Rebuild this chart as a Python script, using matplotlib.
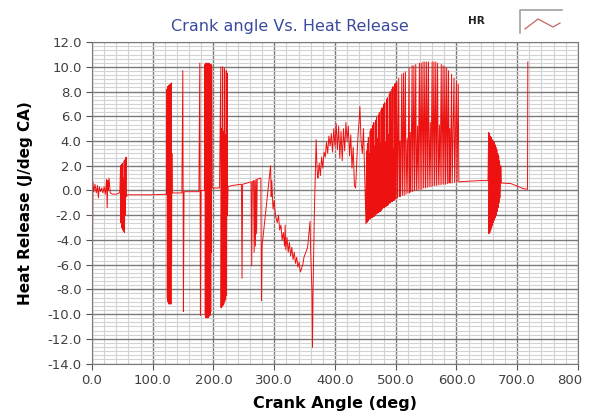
import numpy as np
import matplotlib
matplotlib.use("Agg")
import matplotlib.pyplot as plt
import matplotlib.transforms as mtransforms
from matplotlib.ticker import AutoMinorLocator
from matplotlib.lines import Line2D

# crank angle (deg) and heat release (J/deg CA)
angle = [
    0, 0.5, 1.5, 3, 5, 7, 9, 10.5, 12, 14, 16, 18, 20, 22, 24, 25, 26, 27, 28, 30,
    34, 40, 45, 46, 47, 47.5, 48.5, 49, 50, 50.5, 51.5, 52, 53, 53.5, 54.5, 55,
    56, 56.5, 58, 80, 100, 122,
    123, 123.5, 124, 124.5, 125, 125.5, 126, 126.5, 127, 127.5, 128, 128.5, 129,
    129.5, 130, 130.5, 131, 131.5, 132, 148, 149.5, 150.5, 151.5, 176, 177.5,
    178.5, 179.5, 185,
    186, 186.5, 187, 187.5, 188, 188.5, 189, 189.5, 190, 190.5, 191, 191.5, 192,
    192.5, 193, 193.5, 194, 194.5, 195, 195.5, 196, 196.5, 197, 198, 210,
    212, 212.5, 213.5, 214, 215, 215.5, 216.5, 217, 218, 218.5, 219.5, 220, 221,
    221.5, 222.5, 223, 224, 230,
    246, 247, 248, 255, 262, 263, 264, 266, 267, 268, 269, 270, 271, 272, 276,
    278, 279, 280, 294, 295, 296, 298, 300, 302, 305, 307, 309, 311, 313, 315,
    317, 318, 319, 321, 323, 325, 327, 329, 331, 333, 335, 337, 339, 341, 343,
    345, 347, 349, 352, 355, 357, 359, 360, 362, 363, 364, 366, 368, 369, 370,
    371, 372, 374, 376, 378, 380, 382, 384, 386, 388, 390, 392, 394, 396, 398,
    400, 402, 404, 406, 408, 410, 412, 414, 416, 418, 420, 422, 424, 426, 428,
    430, 432, 434, 436, 438, 440, 441, 443, 445, 447, 449, 451,
    452, 452.5, 453.5, 454, 455, 455.5, 456.5, 457, 458, 458.5, 459.5, 460,
    461, 461.5, 462.5, 463, 464, 464.5, 465.5, 466, 467, 467.5, 468.5, 469,
    470, 470.5, 471.5, 472, 473, 473.5, 474.5, 475, 476, 476.5, 477.5, 478,
    479, 479.5, 480.5, 481, 482, 482.5, 483.5, 484, 485, 485.5, 486.5, 487,
    488, 488.5, 489.5, 490, 491, 491.5, 492.5, 493, 494, 494.5, 495.5, 496,
    497, 497.5, 498.5, 499, 500, 500.5,
    502, 503, 505, 506, 507, 508, 510, 511, 513, 514, 516, 517, 519, 520, 522,
    523, 524, 525, 527, 528, 530, 531, 533, 534, 536, 537, 539, 540, 542, 543,
    545, 546, 548, 549, 551, 552, 554, 555, 557, 558, 560, 561, 563, 564, 566,
    567, 569, 570, 572, 573, 575, 576, 578, 579, 581, 582, 584, 585, 587, 588,
    589, 590, 592, 593, 596, 597, 600, 601, 603, 604,
    620, 640, 652,
    653, 653.5, 654.5, 655, 656, 656.5, 657.5, 658, 659, 659.5, 660.5, 661,
    662, 662.5, 663.5, 664, 665, 665.5, 666.5, 667, 668, 668.5, 669.5, 670,
    671, 672, 673, 674, 676, 690, 700, 710, 717, 717.5,
]
hr = [
    0.6, -6.5, 0.7, -0.1, 0.5, -0.2, 0.4, -0.6, 0.3, -0.1, 0.2, -0.2, 0.3, -0.3,
    0.9, -1.4, 0.8, 0.0, 1.0, -0.2,
    -0.3, -0.3, -0.2, 0.0, 2.0, -2.6, 2.1, -3.0, 2.2, -3.2, 1.0, -3.3, 2.4,
    -3.4, 2.5, -2.0,
    2.7, -0.5, -0.35, -0.35, -0.35, -0.3,
    -0.3, 8.2, -8.7, 8.4, -9.0, 4.0, -9.1, 8.5, -9.2, 3.5, -8.8, 8.6, -9.0,
    4.2, -9.2, 8.7, -6.0, 3.0, -0.2, -0.2, 9.7, -9.8, -0.1, -0.1, 10.3,
    -10.1, 0.0, 0.0,
    10.2, -10.0, 10.3, -10.3, 5.0, -10.3, 10.3, -10.2, 5.2, -10.3, 10.3, -10.3,
    5.0, -10.2, 10.3, -10.0, 4.8, -10.1, 10.2, -9.8, 10.2, -5.0, 10.1, 0.2, 0.2,
    10.0, -9.5, 5.0, -9.4, 10.0, -9.3, 4.8, -9.2, 9.9, -9.0, 4.5, -8.8, 9.7,
    -8.5, 9.5, -2.0, 0.3, 0.4,
    0.5, -7.1, 0.5, 0.6, 0.7, -6.1, 0.7, 0.8, -5.0, 0.8, -4.5, 0.9, -3.5, 0.9,
    1.0, 1.0, -8.9, -4.5, 2.0, -0.5, 0.8, -1.5, -0.8, -2.0, -2.6, -2.0, -3.2,
    -2.8, -4.0, -3.4, -4.5, -2.8, -4.8, -3.8, -5.0, -4.2, -5.3, -4.6, -5.6,
    -5.0, -5.9, -5.4, -6.2, -5.8, -6.6, -6.3, -6.0, -5.4, -5.0, -4.6, -3.5,
    -2.5, -5.0, -8.0, -12.7, -8.0, -2.0, 2.0, 4.1, 2.5, 1.3, 1.0, 2.2, 1.2,
    2.7, 1.8, 3.1, 2.7, 3.9, 3.0, 4.4, 3.6, 4.6, 3.1, 5.0, 3.6, 5.4, 3.3, 5.2,
    2.6, 4.8, 2.4, 5.0, 3.2, 5.5, 4.0, 5.2, 2.8, 4.5, 1.8, 3.5, 0.4, 0.2, 2.5,
    4.5, 5.8, 6.8, 4.0, 3.0, 5.0, 1.2, -2.7,
    3.2, -2.6, 3.8, -2.5, 4.3, -2.4, 3.0, -2.3, 4.8, -2.3, 5.0, -2.2, 4.0,
    -2.2, 5.3, -2.1, 5.5, -2.1, 3.6, -2.0, 5.7, -1.9, 5.9, -1.9, 4.2, -1.8,
    6.1, -1.8, 6.3, -1.7, 3.8, -1.7, 6.5, -1.6, 6.7, -1.5, 5.0, -1.4, 7.0,
    -1.4, 7.1, -1.3, 3.9, -1.3, 7.4, -1.2, 7.5, -1.2, 4.5, -1.1, 7.8, -1.0,
    8.0, -1.0, 5.6, -0.9, 8.2, -0.9, 8.4, -0.8, 3.4, -0.8, 8.6, -0.7, 8.7, -0.7,
    8.8, -0.6, 9.1, -0.5, 4.0, -0.5, 9.4, -0.4, 9.5, -0.4, 9.6, -0.3, 4.2,
    -0.2, 9.9, -0.2, 4.7, -0.1, 10.1, -0.1, 10.1, 0.0, 10.2, 0.0, 5.2, 0.05,
    10.3, 0.1, 10.3, 0.1, 10.4, 0.2, 10.4, 0.2, 10.4, 0.25, 10.4, 0.3, 5.5,
    0.3, 10.4, 0.35, 10.4, 0.4, 10.4, 0.4, 10.3, 0.45, 5.3, 0.45, 10.2, 0.5,
    10.1, 0.5, 10.0, 0.5, 9.9, 0.55, 9.7, 0.6, 5.0, 0.6, 9.4, 0.6, 9.1, 0.65,
    8.8, 0.65, 8.6, 0.7,
    0.75, 0.8, 0.8,
    4.7, -3.5, 4.6, -3.4, 4.4, -3.2, 4.3, -3.0, 4.1, -2.8, 4.0, -2.6, 3.9,
    -2.4, 3.7, -2.2, 3.5, -2.0, 3.3, -1.7, 3.0, -1.4, 2.8, -1.0, 2.4, -0.6,
    2.0, 0.6, 0.6, 0.55, 0.35, 0.15, 0.1, 10.4,
]

xticks = [0, 100, 200, 300, 400, 500, 600, 700, 800]
xlabels = ["0.0", "100.0", "200.0", "300.0", "400.0", "500.0", "600.0", "700.0", "800"]
yticks = [12, 10, 8, 6, 4, 2, 0, -2, -4, -6, -8, -10, -12, -14]

fig = plt.figure(figsize=(5.89, 4.12), dpi=100)
ax = fig.add_axes([0.1562, 0.1177, 0.825, 0.780])

ax.plot(angle, hr, color='#ee1111', lw=0.7, label='HR')

ax.set_xlim(0, 800)
ax.set_ylim(-14, 12)
ax.set_xticks(xticks)
ax.set_yticks(yticks)
ax.set_xticklabels(xlabels)
ax.set_yticklabels([f"{v:.1f}" for v in yticks])
ax.xaxis.set_minor_locator(AutoMinorLocator(5))
ax.yaxis.set_minor_locator(AutoMinorLocator(6))
ax.grid(which='major', color='#7a7a7a', lw=1.0)
ax.grid(which='minor', color='#d2d2d2', lw=0.8)
ax.set_axisbelow(True)
for s in ax.spines.values():
    s.set_color('#7a7a7a')
ax.tick_params(which='major', length=4, color='#555555', labelsize=9.5,
               labelcolor='#404040')
ax.tick_params(which='minor', length=0)

# last x label is clipped to "800" in the reference; nudge it right like there
last = ax.get_xticklabels()[-1]
last.set_transform(last.get_transform() +
                   mtransforms.ScaledTranslation(-0.08, 0, fig.dpi_scale_trans))

ax.set_xlabel('Crank Angle (deg)', fontsize=11.5, fontweight='bold')
ax.xaxis.set_label_coords(0.5, -0.10)
ax.set_ylabel('Heat Release (J/deg CA)', fontsize=11, fontweight='bold')
ax.yaxis.set_label_coords(-0.122, 0.5)

fig.text(290 / 589, 1 - 27 / 412, 'Crank angle Vs. Heat Release', color='#3a4a9c',
         fontsize=11.5, ha='center', va='center')

# legend
fig.text(476 / 589, 1 - 21 / 412, 'HR', fontsize=7.5, fontweight='bold',
         ha='center', va='center', color='#222222')
fig.add_artist(Line2D([520 / 589, 520 / 589, 562 / 589],
                      [1 - 33 / 412, 1 - 10 / 412, 1 - 10 / 412],
                      transform=fig.transFigure, color='#a0a0a0', lw=1.2))
fig.add_artist(Line2D([525 / 589, 538 / 589, 553 / 589, 560 / 589],
                      [1 - 29 / 412, 1 - 19 / 412, 1 - 27 / 412, 1 - 23 / 412],
                      transform=fig.transFigure, color='#c86464', lw=0.9))

fig.savefig('out.png', dpi=100)
